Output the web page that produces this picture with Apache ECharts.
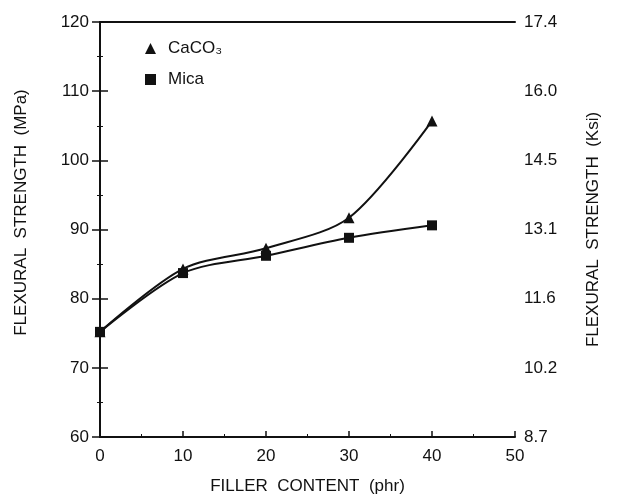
<!DOCTYPE html>
<html>
<head>
<meta charset="utf-8">
<script src="https://cdn.jsdelivr.net/npm/echarts@6/dist/echarts.min.js"></script>
<style>
  html, body { margin: 0; padding: 0; background: #fff; }
  #chart { width: 618px; height: 496px; }
</style>
</head>
<body>
<div id="chart"></div>
<script>
// Filler loading (phr)
const fillerContent = [0, 10, 20, 30, 40];
// Flexural strength (MPa)
const caco3Strength = [75.2, 84.3, 87.3, 91.7, 105.7];
const micaStrength = [75.2, 83.7, 86.2, 88.8, 90.6];
// Secondary scale labels (Ksi) at every 10 MPa from 60 to 120
const ksiLabels = ['8.7', '10.2', '11.6', '13.1', '14.5', '16.0', '17.4'];

const FONT = 'Liberation Sans';
const INK = '#111';

const pairs = (xs, ys) => xs.map((x, i) => [x, ys[i]]);

const chart = echarts.init(document.getElementById('chart'), null, { renderer: 'canvas' });

const yAxisCommon = {
  type: 'value',
  min: 60,
  max: 120,
  interval: 10,
  splitLine: { show: false },
  axisLine: { show: true, lineStyle: { color: INK, width: 2 } },
  axisTick: { show: true, inside: false, length: 8, lineStyle: { color: INK, width: 1.5 } },
  minorTick: { show: true, splitNumber: 2, length: 3, lineStyle: { color: INK, width: 1 } },
  axisLabel: { color: INK, fontFamily: FONT, fontSize: 17, margin: 11 },
  nameLocation: 'middle',
  nameTextStyle: { color: INK, fontFamily: FONT, fontSize: 17 }
};

chart.setOption({
  animation: false,
  backgroundColor: '#fff',
  grid: { left: 100, right: 103, top: 22, bottom: 59, outerBoundsMode: 'none', containLabel: false },
  legend: {
    left: 140,
    top: 35,
    orient: 'vertical',
    itemWidth: 11,
    itemHeight: 11,
    itemGap: 14,
    textStyle: { color: INK, fontFamily: FONT, fontSize: 17, padding: [0, 0, 0, 7] },
    data: [
      { name: 'CaCO₃', icon: 'triangle' },
      { name: 'Mica', icon: 'rect' }
    ]
  },
  xAxis: [
    {
      type: 'value',
      min: 0,
      max: 50,
      interval: 10,
      position: 'bottom',
      splitLine: { show: false },
      axisLine: { show: true, onZero: false, lineStyle: { color: INK, width: 2 } },
      axisTick: { show: true, inside: true, length: 6, lineStyle: { color: INK, width: 1.5 } },
      minorTick: { show: true, splitNumber: 2, length: 3, lineStyle: { color: INK, width: 1 } },
      axisLabel: { color: INK, fontFamily: FONT, fontSize: 17, margin: 11 },
      name: 'FILLER  CONTENT  (phr)',
      nameLocation: 'middle',
      nameGap: 41,
      nameTextStyle: { color: INK, fontFamily: FONT, fontSize: 17 }
    },
    {
      type: 'value',
      min: 0,
      max: 50,
      position: 'top',
      splitLine: { show: false },
      axisLine: { show: true, onZero: false, lineStyle: { color: INK, width: 2 } },
      axisTick: { show: false },
      axisLabel: { show: false }
    }
  ],
  yAxis: [
    Object.assign({}, yAxisCommon, {
      position: 'left',
      name: 'FLEXURAL  STRENGTH  (MPa)',
      nameGap: 70,
      nameTextStyle: Object.assign({}, yAxisCommon.nameTextStyle, { padding: [0, 0, 0, 34] })
    }),
    Object.assign({}, yAxisCommon, {
      position: 'right',
      name: 'FLEXURAL  STRENGTH  (Ksi)',
      nameGap: 70,
      axisLabel: Object.assign({}, yAxisCommon.axisLabel, {
        margin: 9,
        formatter: v => ksiLabels[Math.round((v - 60) / 10)]
      })
    })
  ],
  series: [
    {
      name: 'CaCO₃',
      type: 'line',
      smooth: 0.3,
      data: pairs(fillerContent, caco3Strength),
      symbol: 'triangle',
      symbolSize: 11,
      itemStyle: { color: INK },
      lineStyle: { color: INK, width: 2 },
      z: 2
    },
    {
      name: 'Mica',
      type: 'line',
      smooth: 0.3,
      data: pairs(fillerContent, micaStrength),
      symbol: 'rect',
      symbolSize: 10,
      itemStyle: { color: INK },
      lineStyle: { color: INK, width: 2 },
      z: 3
    }
  ]
});
</script>
</body>
</html>
